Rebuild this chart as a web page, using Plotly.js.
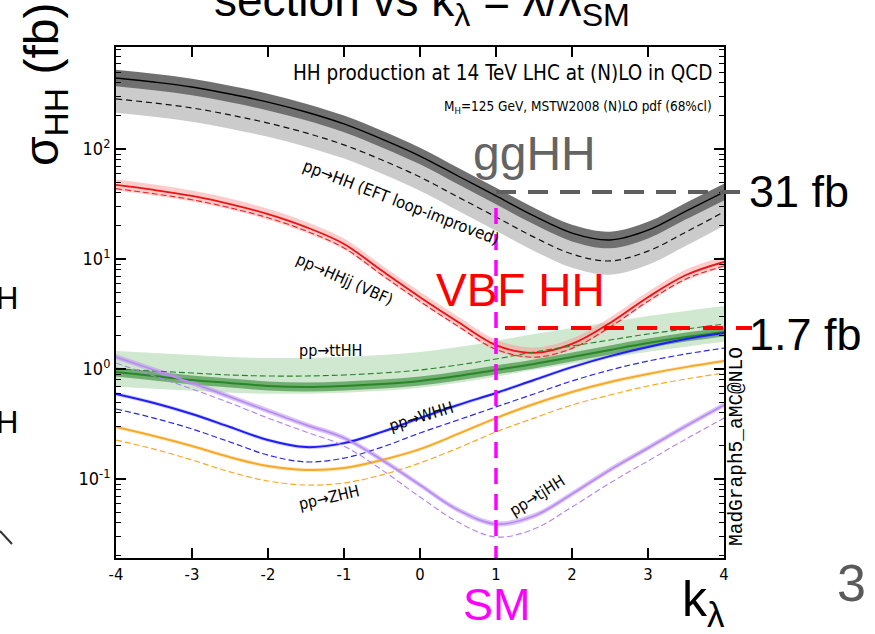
<!DOCTYPE html>
<html><head><meta charset="utf-8">
<script src="https://cdn.plot.ly/plotly-3.0.1.min.js"></script>
<style>html,body{margin:0;padding:0;background:#fff}#chart{width:875px;height:634px}</style>
</head><body><div id="chart"></div>
<script>
// ---- data (cross sections in fb vs k_lambda) ----
const k = [-4,-3.5,-3,-2.5,-2,-1.5,-1,-0.5,0,0.5,1,1.5,2,2.5,3,3.5,4];
const ggHH_NLO = [442,406,366,316,267,217,169,123,86.3,56.8,37.4,24.6,17.2,14.9,18.3,27.3,40.6];
const ggHH_LO  = [285,262,236,204,172,140,109,79.4,55.6,36.6,24.1,15.8,11.1,9.6,11.8,17.6,26.8];
const VBF_NLO  = [47.1,42.4,37.4,31.6,25.6,19.5,13.7,7.8,4.5,2.68,1.65,1.40,1.69,2.62,4.5,7.15,9.4];
const VBF_LO   = [43.6,39.2,34.6,29.2,23.7,18.0,12.6,7.15,4.12,2.45,1.51,1.28,1.54,2.40,4.13,6.58,8.65];
const ttHH_NLO = [0.939,0.864,0.794,0.746,0.701,0.686,0.701,0.731,0.778,0.864,0.979,1.11,1.285,1.49,1.72,1.95,2.17];
const ttHH_LO  = [1.0,0.959,0.919,0.882,0.864,0.864,0.882,0.919,0.979,1.087,1.233,1.427,1.619,1.835,2.08,2.31,2.56];
const WHH_NLO  = [0.593,0.491,0.390,0.297,0.226,0.195,0.212,0.268,0.358,0.471,0.605,0.794,1.04,1.31,1.585,1.87,2.12];
const WHH_LO   = [0.433,0.358,0.285,0.217,0.165,0.143,0.155,0.195,0.262,0.344,0.452,0.593,0.778,0.979,1.18,1.37,1.55];
const ZHH_NLO  = [0.297,0.246,0.1995,0.158,0.131,0.121,0.126,0.149,0.187,0.257,0.358,0.481,0.618,0.762,0.901,1.04,1.18];
const ZHH_LO   = [0.226,0.187,0.149,0.116,0.0959,0.0882,0.092,0.109,0.14,0.191,0.268,0.358,0.471,0.58,0.701,0.811,0.919];
const tjHH_NLO = [1.285,0.979,0.746,0.557,0.415,0.31,0.236,0.149,0.0882,0.0523,0.039,0.0461,0.073,0.121,0.191,0.303,0.471];
const tjHH_LO  = [1.134,0.864,0.658,0.491,0.358,0.268,0.1995,0.121,0.0686,0.0406,0.0297,0.0351,0.0557,0.092,0.146,0.231,0.358];
// relative scale uncertainties [up, down]
const ggHH_NLO_unc = [0.19,0.16], ggHH_LO_unc = [0.34,0.25];
const VBF_NLO_unc = [0.12,0.11];
const ttHH_NLO_unc = [0.10,0.09], ttHH_LO_unc = [0.46,0.31];
const WHH_NLO_unc = [0.04,0.04], ZHH_NLO_unc = [0.04,0.04], tjHH_NLO_unc = [0.06,0.05];

const xTicks = [-4,-3,-2,-1,0,1,2,3,4];
const xTickText = ['-4','-3','-2','-1','0','1','2','3','4'];
const yTicks = [0.1,1,10,100];
const yTickText = ['10<sup>-1</sup>','10<sup>0</sup>','10<sup>1</sup>','10<sup>2</sup>'];
const SM_K = 1;

// ---- helpers ----
const L=116, R=724, T=47, B=558;
const xp = p => (p-L)/(R-L);
const yp = p => (B-p)/(B-T);
const NARROW = '"DejaVu Sans Condensed","Liberation Sans Narrow","Arial Narrow","Liberation Sans",Arial,sans-serif';
const ARIAL = '"Liberation Sans",Arial,sans-serif';

function band(y, unc, color){
  return [
    {x:k, y:y.map(v=>v*(1+unc[0])), mode:'lines', line:{width:0, shape:'spline'}, hoverinfo:'skip', showlegend:false},
    {x:k, y:y.map(v=>v*(1-unc[1])), mode:'lines', line:{width:0, shape:'spline'}, fill:'tonexty', fillcolor:color, hoverinfo:'skip', showlegend:false}
  ];
}
function line(y, color, width, dash){
  return {x:k, y:y, mode:'lines', line:{color:color, width:width, dash:dash||'solid', shape:'spline'}, showlegend:false};
}

const traces = [
  ...band(ggHH_LO, ggHH_LO_unc, 'rgb(203,203,203)'),
  ...band(ggHH_NLO, ggHH_NLO_unc, 'rgb(112,112,112)'),
  ...band(ttHH_LO, ttHH_LO_unc, 'rgba(150,205,150,0.45)'),
  ...band(ttHH_NLO, ttHH_NLO_unc, 'rgba(70,150,70,0.7)'),
  ...band(VBF_NLO, VBF_NLO_unc, 'rgba(255,140,140,0.45)'),
  ...band(WHH_NLO, WHH_NLO_unc, 'rgba(120,120,255,0.35)'),
  ...band(ZHH_NLO, ZHH_NLO_unc, 'rgba(255,200,120,0.4)'),
  ...band(tjHH_NLO, tjHH_NLO_unc, 'rgba(190,150,240,0.55)'),
  line(ggHH_LO, '#111', 1.2, '6px,4px'),
  line(ggHH_NLO, '#000', 1.4),
  line(VBF_LO, 'rgb(220,40,40)', 1.1, '6px,3px'),
  line(VBF_NLO, 'rgb(235,20,20)', 1.8),
  line(ttHH_LO, 'rgb(40,130,40)', 1.1, '6px,3px'),
  line(ttHH_NLO, 'rgb(40,135,40)', 2),
  line(WHH_LO, 'rgb(40,40,230)', 1.2, '6px,3px'),
  line(WHH_NLO, 'rgb(30,30,240)', 2),
  line(ZHH_LO, 'rgb(245,170,40)', 1.2, '6px,3px'),
  line(ZHH_NLO, 'rgb(245,170,40)', 2),
  line(tjHH_LO, 'rgb(180,130,240)', 1.1, '6px,3px'),
  line(tjHH_NLO, 'rgb(185,140,240)', 1.8)
];

// minor log ticks
const minorVals = [];
for (let e=-2; e<=2; e++) for (let d=2; d<=9; d++) minorVals.push(d*Math.pow(10,e));

const ann = (x,y,text,size,color,opts) => Object.assign({xref:'paper', yref:'paper', x:xp(x), y:yp(y), text:text, showarrow:false, font:{size:size, color:color||'#000', family:ARIAL}, xanchor:'center', yanchor:'middle'}, opts||{});
const nf = s => ({size:s, family:NARROW, color:'#000'});

const smX = (SM_K-(-4))/8;

const layout = {
  width:875, height:634,
  margin:{l:L, r:875-R, t:T, b:634-B, pad:0},
  paper_bgcolor:'#fff', plot_bgcolor:'#fff',
  showlegend:false,
  xaxis:{range:[-4,4], tickmode:'array', tickvals:xTicks, ticktext:xTickText, ticks:'inside', ticklen:10, tickwidth:1.5, tickcolor:'#000',
    showline:true, linewidth:2, linecolor:'#000', mirror:'ticks', showgrid:false, zeroline:false,
    tickfont:{family:NARROW, size:16.5, color:'#000'}},
  yaxis:{type:'log', range:[-1.718, 2.927], tickmode:'array', tickvals:yTicks, ticktext:yTickText, ticks:'inside', ticklen:10, tickwidth:1.5, tickcolor:'#000',
    showline:true, linewidth:2, linecolor:'#000', mirror:'ticks', showgrid:false, zeroline:false,
    tickfont:{family:NARROW, size:18, color:'#000'},
    minor:{tickmode:'array', tickvals:minorVals, ticks:'inside', ticklen:5, tickwidth:1, tickcolor:'#000', showgrid:false}},
  shapes:[
    {type:'line', xref:'paper', yref:'paper', x0:smX, x1:xp(746), y0:yp(192), y1:yp(192), line:{color:'rgb(95,95,95)', width:4, dash:'20px,12px'}},
    {type:'line', xref:'paper', yref:'paper', x0:xp(505), x1:xp(752), y0:yp(328), y1:yp(328), line:{color:'#ff0000', width:4, dash:'20px,13px'}},
    {type:'line', xref:'paper', yref:'paper', x0:smX, x1:smX, y0:yp(208), y1:0, line:{color:'#ff00ff', width:3.5, dash:'16px,10px'}},
    {type:'line', xref:'paper', yref:'paper', x0:xp(0), x1:xp(12), y0:yp(531), y1:yp(544), line:{color:'#333', width:2}}
  ],
  annotations:[
    ann(503,73,'HH production at 14 TeV LHC at (N)LO in QCD',20.5,'#000',{xanchor:'right', x:xp(714), font:nf(20.5)}),
    ann(600,107,'M<sub>H</sub>=125 GeV, MSTW2008 (N)LO pdf (68%cl)',13.5,'#000',{xanchor:'right', x:xp(714), font:nf(13.5)}),
    ann(401,202,'pp→HH (EFT loop-improved)',16.5,'#000',{textangle:21, font:nf(16.5)}),
    ann(345,279,'pp→HHjj (VBF)',16,'#000',{textangle:24, font:nf(16)}),
    ann(330,350,'pp→ttHH',16,'#000',{font:nf(16)}),
    ann(421,416,'pp→WHH',16,'#000',{textangle:-17, font:nf(16)}),
    ann(329,497,'pp→ZHH',16,'#000',{textangle:-13, font:nf(16)}),
    ann(537,495,'pp→tjHH',16,'#000',{textangle:-32, font:nf(16)}),
    ann(737,447,'MadGraph5_aMC@NLO',19.5,'#000',{textangle:-90, font:{size:19.5,family:'"Liberation Mono","DejaVu Sans Mono",monospace',color:'#000'}}),
    ann(534,153,'ggHH',48,'rgb(100,100,100)'),
    ann(520,290,'VBF HH',46,'#ff0000'),
    ann(799,191,'31 fb',45,'#000'),
    ann(805,334,'1.7 fb',45,'#000'),
    ann(497,604,'SM',45,'#ff00ff'),
    ann(703,602,'k<sub>λ</sub>',50,'#000'),
    ann(851,583,'3',52,'rgb(90,90,90)'),
    ann(422,4,'section vs k<sub>λ</sub> = λ/λ<sub>SM</sub>',46,'#000'),
    ann(45,85,'σ<sub>HH</sub> (fb)',48,'#000',{textangle:-90}),
    ann(7,298,'H',31,'#000'),
    ann(7,422,'H',31,'#000')
  ]
};

Plotly.newPlot('chart', traces, layout, {displayModeBar:false, staticPlot:true});
</script></body></html>
